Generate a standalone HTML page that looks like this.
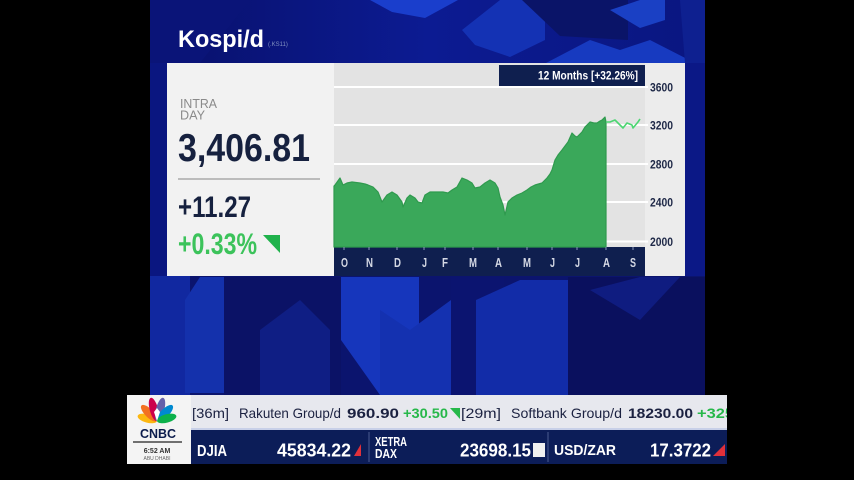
<!DOCTYPE html>
<html><head><meta charset="utf-8">
<style>
html,body{margin:0;padding:0;background:#000;width:854px;height:480px;overflow:hidden}
svg{display:block}
text{font-family:"Liberation Sans",sans-serif}
</style></head>
<body>
<svg width="854" height="480" viewBox="0 0 854 480" xmlns="http://www.w3.org/2000/svg">
<defs>
<linearGradient id="bgL" x1="0" y1="0" x2="1" y2="0">
<stop offset="0" stop-color="#08106a"/><stop offset="0.5" stop-color="#0c1b92"/><stop offset="1" stop-color="#0a1680"/>
</linearGradient>
</defs>
<rect x="0" y="0" width="854" height="480" fill="#000"/>
<!-- blue background -->
<rect x="150" y="0" width="555" height="464" fill="url(#bgL)"/>
<!-- top shapes -->
<polygon points="370,0 458,0 425,18 392,12" fill="#1a3ecc"/>
<polygon points="462,30 500,0 545,0 545,40 510,57 475,45" fill="#1432b4"/>
<polygon points="522,0 628,0 628,40 560,36" fill="#0a1468"/>
<polygon points="610,10 640,0 665,0 665,20 640,28" fill="#1a40c4"/>
<polygon points="546,63 590,40 620,50 650,40 695,63" fill="#173ac0"/>
<polygon points="680,0 705,0 705,63 685,63" fill="#0e2090"/>
<polygon points="150,0 250,0 200,63 150,63" fill="#0a1478"/>
<!-- side strips -->
<rect x="150" y="63" width="17" height="213" fill="#0a1680"/>
<rect x="685" y="63" width="20" height="213" fill="#0b1886"/>
<!-- bottom shapes -->
<rect x="150" y="276" width="555" height="120" fill="#0b146e"/>
<polygon points="150,276 190,276 190,395 150,395" fill="#1128a0"/>
<polygon points="185,300 200,277 224,277 224,393 185,393" fill="#1431ac"/>
<polygon points="224,277 341,277 341,395 224,395" fill="#0b1266"/>
<polygon points="260,330 300,300 330,330 330,395 260,395" fill="#0f1e84"/>
<polygon points="341,277 419,277 419,395 380,395 341,340" fill="#1636bc"/>
<polygon points="380,310 410,330 451,300 451,395 380,395" fill="#1431b0"/>
<polygon points="451,277 504,277 504,395 451,395" fill="#0b1470"/>
<polygon points="476,300 520,280 568,280 568,395 476,395" fill="#122ca8"/>
<polygon points="568,277 705,277 705,395 568,395" fill="#0a105e"/>
<polygon points="590,290 640,277 680,277 640,320" fill="#0f1c80"/>

<!-- panel -->
<rect x="167" y="63" width="167" height="213" fill="#f2f2f2"/>
<rect x="334" y="63" width="311" height="185" fill="#e3e3e3"/>
<rect x="645" y="63" width="40" height="213" fill="#ececec"/>
<rect x="334" y="247" width="311" height="29" fill="#0f1f4f"/>

<!-- grid -->
<g stroke="#ffffff" stroke-width="2">
<line x1="334" y1="87" x2="648" y2="87"/>
<line x1="334" y1="125" x2="648" y2="125"/>
<line x1="334" y1="164" x2="648" y2="164"/>
<line x1="334" y1="202" x2="648" y2="202"/>
<line x1="334" y1="241.5" x2="648" y2="241.5"/>
</g>

<!-- area -->
<path d="M334,247 L334,186 L335,185 L340,178 L343,185 L347,183 L352,182 L360,183 L365,184 L368,185 L373,187 L378,192 L382,202 L387,195 L392,192 L397,195 L402,202 L403,207 L407,198 L410,195 L415,198 L418,202 L422,203 L425,195 L430,192 L437,192 L443,192 L448,193 L452,190 L457,187 L462,178 L467,180 L472,183 L475,188 L480,187 L485,183 L490,180 L495,183 L498,188 L500,197 L503,205 L505,215 L508,202 L512,198 L517,195 L522,193 L527,190 L531,187 L535,185 L542,183 L547,178 L550,174 L552,170 L555,160 L558,155 L562,150 L565,146 L568,142 L572,133 L575,136 L577,137 L580,134 L582,132 L585,127 L588,124 L590,122 L594,123 L597,123 L600,121 L602,120 L605,117 L606,122 L606,247 Z" fill="#3aa85a" stroke="#2f9a4e" stroke-width="1.2" stroke-linejoin="round"/>
<path d="M606,122 L610,122 L615,120 L620,125 L623,128 L627,123 L632,125 L633,128 L638,122 L640,119" fill="none" stroke="#4cd672" stroke-width="1.6" stroke-linejoin="round"/>

<!-- header box -->
<rect x="499" y="65" width="146" height="21" fill="#0f1f4f"/>
<text x="538" y="79.5" font-size="11.5" font-weight="bold" fill="#ffffff" textLength="100" lengthAdjust="spacingAndGlyphs">12 Months [+32.26%]</text>

<!-- y labels -->
<g font-size="12" font-weight="bold" fill="#1e2847">
<text x="650" y="91.5" textLength="23" lengthAdjust="spacingAndGlyphs">3600</text>
<text x="650" y="129.5" textLength="23" lengthAdjust="spacingAndGlyphs">3200</text>
<text x="650" y="168.5" textLength="23" lengthAdjust="spacingAndGlyphs">2800</text>
<text x="650" y="206.5" textLength="23" lengthAdjust="spacingAndGlyphs">2400</text>
<text x="650" y="246" textLength="23" lengthAdjust="spacingAndGlyphs">2000</text>
</g>

<!-- month ticks -->
<g stroke="#8a96b8" stroke-width="1">
<line x1="344" y1="247" x2="344" y2="250"/><line x1="369" y1="247" x2="369" y2="250"/>
<line x1="397" y1="247" x2="397" y2="250"/><line x1="424" y1="247" x2="424" y2="250"/>
<line x1="445" y1="247" x2="445" y2="250"/><line x1="473" y1="247" x2="473" y2="250"/>
<line x1="498" y1="247" x2="498" y2="250"/><line x1="527" y1="247" x2="527" y2="250"/>
<line x1="552" y1="247" x2="552" y2="250"/><line x1="577" y1="247" x2="577" y2="250"/>
<line x1="606" y1="247" x2="606" y2="250"/><line x1="633" y1="247" x2="633" y2="250"/>
</g>
<g font-size="13" font-weight="bold" fill="#d4d8e4">
<text x="341" y="267" textLength="7" lengthAdjust="spacingAndGlyphs">O</text>
<text x="366" y="267" textLength="7" lengthAdjust="spacingAndGlyphs">N</text>
<text x="394" y="267" textLength="7" lengthAdjust="spacingAndGlyphs">D</text>
<text x="422" y="267" textLength="5" lengthAdjust="spacingAndGlyphs">J</text>
<text x="442" y="267" textLength="6" lengthAdjust="spacingAndGlyphs">F</text>
<text x="469" y="267" textLength="8" lengthAdjust="spacingAndGlyphs">M</text>
<text x="495" y="267" textLength="7" lengthAdjust="spacingAndGlyphs">A</text>
<text x="523" y="267" textLength="8" lengthAdjust="spacingAndGlyphs">M</text>
<text x="550" y="267" textLength="5" lengthAdjust="spacingAndGlyphs">J</text>
<text x="575" y="267" textLength="5" lengthAdjust="spacingAndGlyphs">J</text>
<text x="603" y="267" textLength="7" lengthAdjust="spacingAndGlyphs">A</text>
<text x="630" y="267" textLength="6" lengthAdjust="spacingAndGlyphs">S</text>
</g>

<!-- title -->
<text x="178" y="47" font-size="24" font-weight="bold" fill="#ffffff" textLength="86" lengthAdjust="spacingAndGlyphs">Kospi/d</text>
<text x="268" y="46" font-size="6" fill="#8090c0">(.KS11)</text>

<!-- left panel text -->
<text x="180" y="108" font-size="13" fill="#8a8a8a" textLength="37" lengthAdjust="spacingAndGlyphs">INTRA</text>
<text x="180" y="119.5" font-size="13" fill="#8a8a8a" textLength="25" lengthAdjust="spacingAndGlyphs">DAY</text>
<text x="178" y="161" font-size="39" font-weight="bold" fill="#16213f" textLength="132" lengthAdjust="spacingAndGlyphs">3,406.81</text>
<line x1="178" y1="179" x2="320" y2="179" stroke="#bcbcbc" stroke-width="2"/>
<text x="178" y="217" font-size="30" font-weight="bold" fill="#16213f" textLength="73" lengthAdjust="spacingAndGlyphs">+11.27</text>
<text x="178" y="254" font-size="30" font-weight="bold" fill="#3cc35b" textLength="79" lengthAdjust="spacingAndGlyphs">+0.33%</text>
<polygon points="263,235 280,235 280,253" fill="#20b24c"/>

<!-- ticker -->
<rect x="127" y="395" width="64" height="69" fill="#f4f4f4"/>
<rect x="191" y="395" width="536" height="33" fill="#e7e8ee"/>
<rect x="191" y="428" width="536" height="2" fill="#c8d0e8"/>
<rect x="191" y="430" width="536" height="34" fill="#0c1d58"/>
<line x1="369" y1="432" x2="369" y2="462" stroke="#4a5a90" stroke-width="1"/>
<line x1="548" y1="432" x2="548" y2="462" stroke="#4a5a90" stroke-width="1"/>

<g font-size="14" fill="#1b2140">
<text x="192" y="418" textLength="37" lengthAdjust="spacingAndGlyphs">[36m]</text>
<text x="239" y="418" textLength="102" lengthAdjust="spacingAndGlyphs">Rakuten Group/d</text>
<text x="347" y="418" font-weight="bold" textLength="52" lengthAdjust="spacingAndGlyphs">960.90</text>
<text x="403" y="418" font-weight="bold" fill="#27b84a" textLength="45" lengthAdjust="spacingAndGlyphs">+30.50</text>
<text x="461" y="418" textLength="40" lengthAdjust="spacingAndGlyphs">[29m]</text>
<text x="511" y="418" textLength="111" lengthAdjust="spacingAndGlyphs">Softbank Group/d</text>
<text x="628" y="418" font-weight="bold" textLength="65" lengthAdjust="spacingAndGlyphs">18230.00</text>
<text x="697" y="418" font-weight="bold" fill="#27b84a" textLength="37" lengthAdjust="spacingAndGlyphs">+325</text>
</g>
<polygon points="450,408 460,408 460,419" fill="#27b84a"/>
<rect x="727" y="395" width="127" height="70" fill="#000"/>

<g font-weight="bold" fill="#ffffff">
<text x="197" y="456" font-size="16" textLength="30" lengthAdjust="spacingAndGlyphs">DJIA</text>
<text x="277" y="456.5" font-size="18" textLength="74" lengthAdjust="spacingAndGlyphs">45834.22</text>
<text x="375" y="446" font-size="13" textLength="32" lengthAdjust="spacingAndGlyphs">XETRA</text>
<text x="375" y="458" font-size="13" textLength="22" lengthAdjust="spacingAndGlyphs">DAX</text>
<text x="460" y="456.5" font-size="18" textLength="71" lengthAdjust="spacingAndGlyphs">23698.15</text>
<text x="554" y="455" font-size="15" textLength="62" lengthAdjust="spacingAndGlyphs">USD/ZAR</text>
<text x="650" y="456.5" font-size="18" textLength="61" lengthAdjust="spacingAndGlyphs">17.3722</text>
</g>
<polygon points="361,444 361,456 354,456" fill="#e0303a"/>
<rect x="533" y="443" width="12" height="14" fill="#f0f0f0"/>
<polygon points="725,444 725,456 713,456" fill="#e0303a"/>

<!-- CNBC logo -->
<g transform="translate(157,421)">
<g transform="rotate(-75)"><ellipse cx="0" cy="-10" rx="4.2" ry="10" fill="#fcb711"/></g>
<g transform="rotate(-45)"><ellipse cx="0" cy="-11" rx="4.2" ry="11" fill="#f37021"/></g>
<g transform="rotate(-15)"><ellipse cx="0" cy="-12" rx="4.2" ry="12" fill="#cc004c"/></g>
<g transform="rotate(15)"><ellipse cx="0" cy="-12" rx="4.2" ry="12" fill="#6460aa"/></g>
<g transform="rotate(45)"><ellipse cx="0" cy="-11" rx="4.2" ry="11" fill="#0089d0"/></g>
<g transform="rotate(75)"><ellipse cx="0" cy="-10" rx="4.2" ry="10" fill="#0db14b"/></g>
<polygon points="0,0 -3,-9 0,-13 3,-9" fill="#ffffff"/>
</g>
<text x="140" y="438" font-size="13" font-weight="bold" fill="#0b1c4c" textLength="36" lengthAdjust="spacingAndGlyphs">CNBC</text>
<line x1="133" y1="442" x2="182" y2="442" stroke="#444" stroke-width="1.5"/>
<text x="157" y="453" font-size="7" font-weight="bold" fill="#333" text-anchor="middle">6:52 AM</text>
<text x="157" y="460" font-size="5" fill="#666" text-anchor="middle">ABU DHABI</text>
</svg>
</body></html>
